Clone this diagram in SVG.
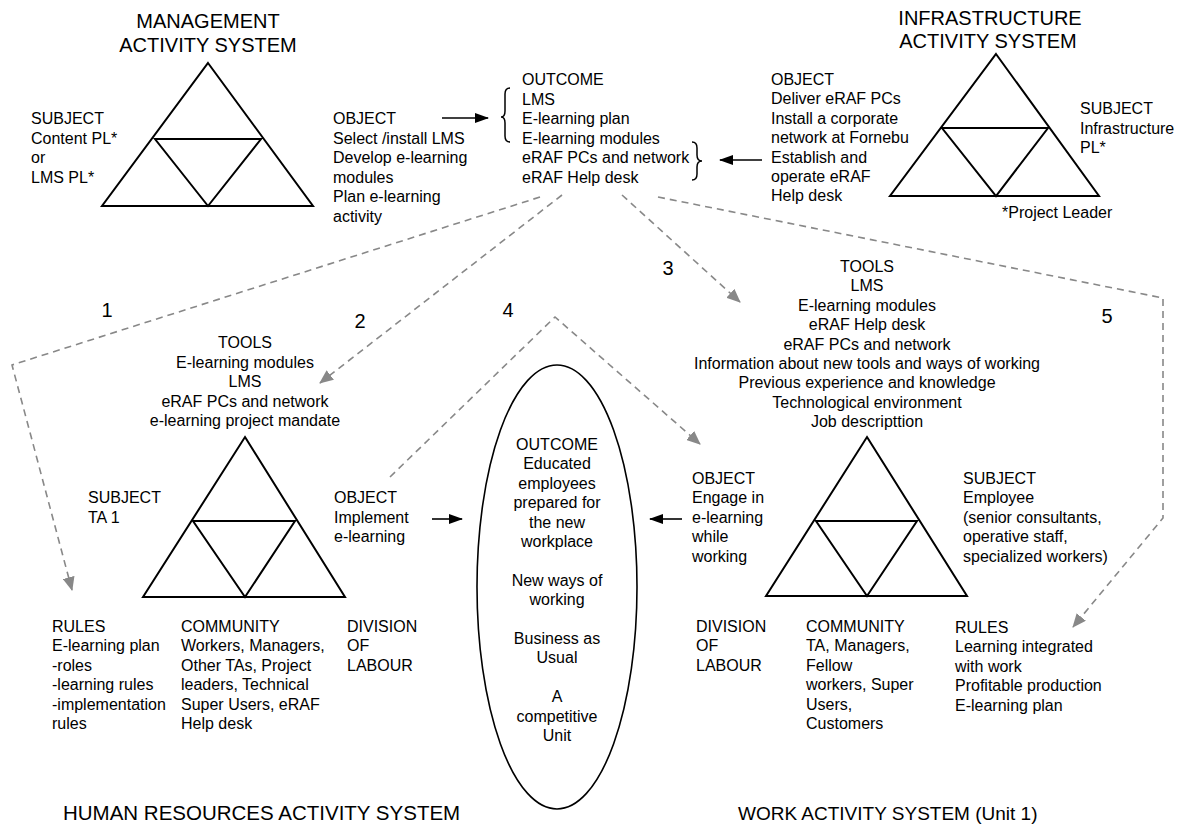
<svg xmlns="http://www.w3.org/2000/svg" width="1182" height="825" viewBox="0 0 1182 825">
<defs>
<style>
text{font-family:"Liberation Sans",Arial,sans-serif;font-size:16px;fill:#000}
.t{font-size:20px}
.c{text-anchor:middle}
.tri{fill:none;stroke:#000;stroke-width:2;stroke-linejoin:miter}
.dash{fill:none;stroke:#888;stroke-width:1.6;stroke-dasharray:7,5}
.arr{fill:none;stroke:#000;stroke-width:1.6}
.brace{fill:none;stroke:#000;stroke-width:1.5}
</style>
<marker id="ga" markerUnits="userSpaceOnUse" markerWidth="14" markerHeight="12" refX="13" refY="6" orient="auto"><path d="M0,0 L14,6 L0,12 z" fill="#888"/></marker>
<marker id="ba" markerUnits="userSpaceOnUse" markerWidth="14" markerHeight="12" refX="13" refY="6" orient="auto"><path d="M0,1 L14,6 L0,11 z" fill="#000"/></marker>
</defs>
<rect width="1182" height="825" fill="#fff"/>

<g id="connectors">
<path class="dash" d="M540,197 L12,365 L72,590" marker-end="url(#ga)"/>
<path class="dash" d="M562,195 L320,383" marker-end="url(#ga)"/>
<path class="dash" d="M622,195 L740,302" marker-end="url(#ga)"/>
<path class="dash" d="M390,477 L555,317 L700,444" marker-end="url(#ga)"/>
<path class="dash" d="M658,197 L1163,298 L1163,518 L1073,627" marker-end="url(#ga)"/>
<path class="arr" d="M442,118 L488,118" marker-end="url(#ba)"/>
<path class="arr" d="M762,160 L720,160" marker-end="url(#ba)"/>
<path class="arr" d="M432,519 L462,519" marker-end="url(#ba)"/>
<path class="arr" d="M682,519 L650,519" marker-end="url(#ba)"/>
<path class="brace" d="M510,88 Q505,88 505,94 L505,111 Q505,117 501,117 Q505,117 505,123 L505,136 Q505,142 510,142"/>
<path class="brace" d="M692,142 Q697,142 697,148 L697,155 Q697,161 702,161 Q697,161 697,167 L697,174 Q697,180 692,180"/>
<text class="t c" x="107" y="317">1</text>
<text class="t c" x="360" y="328">2</text>
<text class="t c" x="668" y="275">3</text>
<text class="t c" x="508" y="317">4</text>
<text class="t c" x="1107" y="323">5</text>
</g>

<g id="management">
<text class="t c" x="208" y="28">MANAGEMENT</text>
<text class="t c" x="208" y="52">ACTIVITY SYSTEM</text>
<path class="tri" d="M208,63 L313,206 L102,206 Z M155,139 L261,139 L208,206 Z"/>
<text x="31" y="124"><tspan x="31">SUBJECT</tspan><tspan x="31" dy="19.5">Content PL*</tspan><tspan x="31" dy="19.5">or</tspan><tspan x="31" dy="19.5">LMS PL*</tspan></text>
<text x="333" y="124"><tspan x="333">OBJECT</tspan><tspan x="333" dy="19.5">Select /install LMS</tspan><tspan x="333" dy="19.5">Develop e-learning</tspan><tspan x="333" dy="19.5">modules</tspan><tspan x="333" dy="19.5">Plan e-learning</tspan><tspan x="333" dy="19.5">activity</tspan></text>
</g>

<g id="outcome-top">
<text x="522" y="85"><tspan x="522">OUTCOME</tspan><tspan x="522" dy="19.5">LMS</tspan><tspan x="522" dy="19.5">E-learning plan</tspan><tspan x="522" dy="19.5">E-learning modules</tspan><tspan x="522" dy="19.5">eRAF PCs and network</tspan><tspan x="522" dy="19.5">eRAF Help desk</tspan></text>
</g>

<g id="infrastructure">
<text class="t c" x="990" y="25">INFRASTRUCTURE</text>
<text class="t c" x="988" y="48">ACTIVITY SYSTEM</text>
<path class="tri" d="M996,54 L1099,196 L890,196 Z M942,128 L1048,128 L996,196 Z"/>
<text x="771" y="85"><tspan x="771">OBJECT</tspan><tspan x="771" dy="19.4">Deliver eRAF PCs</tspan><tspan x="771" dy="19.4">Install a corporate</tspan><tspan x="771" dy="19.4">network at Fornebu</tspan><tspan x="771" dy="19.4">Establish and</tspan><tspan x="771" dy="19.4">operate eRAF</tspan><tspan x="771" dy="19.4">Help desk</tspan></text>
<text x="1080" y="114"><tspan x="1080">SUBJECT</tspan><tspan x="1080" dy="19.5">Infrastructure</tspan><tspan x="1080" dy="19.5">PL*</tspan></text>
<text x="1002" y="218">*Project Leader</text>
</g>

<g id="human-resources">
<text class="c" x="245" y="348"><tspan x="245">TOOLS</tspan><tspan x="245" dy="19.5">E-learning modules</tspan><tspan x="245" dy="19.5">LMS</tspan><tspan x="245" dy="19.5">eRAF PCs and network</tspan><tspan x="245" dy="19.5">e-learning project mandate</tspan></text>
<path class="tri" d="M245,437 L345,597 L143,597 Z M193,521 L295,521 L245,597 Z"/>
<text x="88" y="503"><tspan x="88">SUBJECT</tspan><tspan x="88" dy="19.5">TA 1</tspan></text>
<text x="334" y="503"><tspan x="334">OBJECT</tspan><tspan x="334" dy="19.5">Implement</tspan><tspan x="334" dy="19.5">e-learning</tspan></text>
<text x="52" y="632"><tspan x="52">RULES</tspan><tspan x="52" dy="19.4">E-learning plan</tspan><tspan x="52" dy="19.4">-roles</tspan><tspan x="52" dy="19.4">-learning rules</tspan><tspan x="52" dy="19.4">-implementation</tspan><tspan x="52" dy="19.4">rules</tspan></text>
<text x="181" y="632"><tspan x="181">COMMUNITY</tspan><tspan x="181" dy="19.4">Workers, Managers,</tspan><tspan x="181" dy="19.4">Other TAs, Project</tspan><tspan x="181" dy="19.4">leaders, Technical</tspan><tspan x="181" dy="19.4">Super Users, eRAF</tspan><tspan x="181" dy="19.4">Help desk</tspan></text>
<text x="347" y="632"><tspan x="347">DIVISION</tspan><tspan x="347" dy="19.4">OF</tspan><tspan x="347" dy="19.4">LABOUR</tspan></text>
<text class="t" x="63" y="820" style="font-size:20.5px">HUMAN RESOURCES ACTIVITY SYSTEM</text>
</g>

<g id="outcome-ellipse">
<ellipse cx="557" cy="587" rx="80" ry="222" fill="none" stroke="#000" stroke-width="1.6"/>
<text class="c" x="557" y="450"><tspan x="557">OUTCOME</tspan><tspan x="557" dy="19.4">Educated</tspan><tspan x="557" dy="19.4">employees</tspan><tspan x="557" dy="19.4">prepared for</tspan><tspan x="557" dy="19.4">the new</tspan><tspan x="557" dy="19.4">workplace</tspan><tspan x="557" dy="38.8">New ways of</tspan><tspan x="557" dy="19.4">working</tspan><tspan x="557" dy="38.8">Business as</tspan><tspan x="557" dy="19.4">Usual</tspan><tspan x="557" dy="38.8">A</tspan><tspan x="557" dy="19.4">competitive</tspan><tspan x="557" dy="19.4">Unit</tspan></text>
</g>

<g id="work">
<text class="c" x="867" y="272"><tspan x="867">TOOLS</tspan><tspan x="867" dy="19.4">LMS</tspan><tspan x="867" dy="19.4">E-learning modules</tspan><tspan x="867" dy="19.4">eRAF Help desk</tspan><tspan x="867" dy="19.4">eRAF PCs and network</tspan><tspan x="867" dy="19.4">Information about new tools and ways of working</tspan><tspan x="867" dy="19.4">Previous experience and knowledge</tspan><tspan x="867" dy="19.4">Technological environment</tspan><tspan x="867" dy="19.4">Job descripttion</tspan></text>
<path class="tri" d="M867,437 L967,596 L766,596 Z M816,521 L917,521 L867,596 Z"/>
<text x="692" y="484"><tspan x="692">OBJECT</tspan><tspan x="692" dy="19.4">Engage in</tspan><tspan x="692" dy="19.4">e-learning</tspan><tspan x="692" dy="19.4">while</tspan><tspan x="692" dy="19.4">working</tspan></text>
<text x="963" y="484"><tspan x="963">SUBJECT</tspan><tspan x="963" dy="19.4">Employee</tspan><tspan x="963" dy="19.4">(senior consultants,</tspan><tspan x="963" dy="19.4">operative staff,</tspan><tspan x="963" dy="19.4">specialized workers)</tspan></text>
<text x="696" y="632"><tspan x="696">DIVISION</tspan><tspan x="696" dy="19.4">OF</tspan><tspan x="696" dy="19.4">LABOUR</tspan></text>
<text x="806" y="632"><tspan x="806">COMMUNITY</tspan><tspan x="806" dy="19.4">TA, Managers,</tspan><tspan x="806" dy="19.4">Fellow</tspan><tspan x="806" dy="19.4">workers, Super</tspan><tspan x="806" dy="19.4">Users,</tspan><tspan x="806" dy="19.4">Customers</tspan></text>
<text x="955" y="633"><tspan x="955">RULES</tspan><tspan x="955" dy="19.4">Learning integrated</tspan><tspan x="955" dy="19.4">with work</tspan><tspan x="955" dy="19.4">Profitable production</tspan><tspan x="955" dy="19.4">E-learning plan</tspan></text>
<text class="t" x="738" y="820" style="font-size:19px">WORK ACTIVITY SYSTEM (Unit 1)</text>
</g>
</svg>
